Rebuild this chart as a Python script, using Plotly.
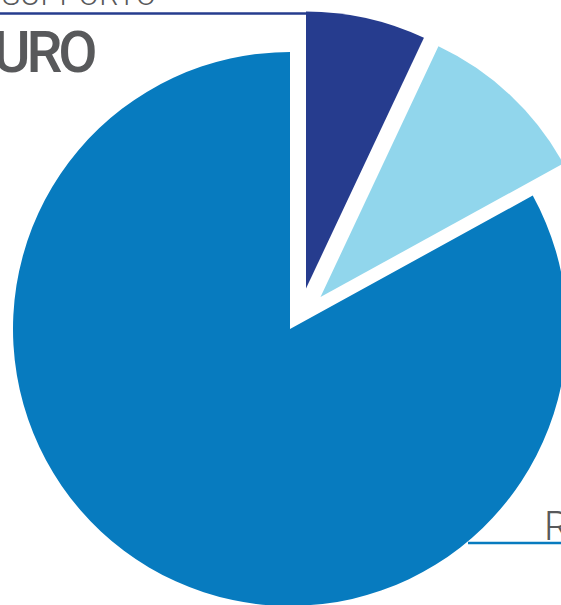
import plotly.graph_objects as go

labels = ["supporto", "altro", "resto"]
shares = [7, 10, 83]
colors = ["#263c8e", "#91d6ec", "#077bbf"]

# canvas in px; each slice is its own pie so it can sit on its own centre
W, H = 620, 640
radius = 277
centres = [(306, 288.5), (320.5, 297), (290, 329)]
GREY = "#58595b"


def px(x):
    return x / W


def py(y):
    return 1 - y / H


fig = go.Figure()
for i, (cx, cy) in enumerate(centres):
    slice_colors = ["rgba(0,0,0,0)"] * len(shares)
    slice_colors[i] = colors[i]
    fig.add_trace(go.Pie(
        labels=labels, values=shares, sort=False,
        direction="clockwise", rotation=0,
        marker=dict(colors=slice_colors, line=dict(width=0)),
        textinfo="none", hoverinfo="skip", showlegend=False,
        domain=dict(x=[px(cx - radius), px(cx + radius)],
                    y=[py(cy + radius), py(cy - radius)]),
    ))

shapes = [
    # leader line from the heading to the navy slice
    dict(type="line", xref="paper", yref="paper",
         x0=px(0), x1=px(306), y0=py(13.5), y1=py(13.5),
         line=dict(color=colors[0], width=2.5)),
    # leader line under the bottom-right label
    dict(type="line", xref="paper", yref="paper",
         x0=px(468), x1=px(W), y0=py(543), y1=py(543),
         line=dict(color=colors[2], width=2.5)),
]

annotations = [
    dict(x=px(0), y=py(-5.4), xref="paper", yref="paper",
         xanchor="left", yanchor="middle", showarrow=False,
         text='<span style="letter-spacing:0.5px">SUPPORTO</span>',
         font=dict(family="Roboto", size=30, color=GREY, weight=300)),
    dict(x=px(97), y=py(53), xref="paper", yref="paper",
         xanchor="right", yanchor="middle", showarrow=False,
         text='<span style="letter-spacing:-4px">EURO</span>',
         font=dict(family="Roboto", size=57, color=GREY, weight=500)),
    dict(x=px(542), y=py(526), xref="paper", yref="paper",
         xanchor="left", yanchor="middle", showarrow=False,
         text="R",
         font=dict(family="Roboto", size=40, color=GREY, weight=300)),
]

fig.update_layout(width=W, height=H, margin=dict(l=0, r=0, t=0, b=0),
                  paper_bgcolor="white", plot_bgcolor="white",
                  shapes=shapes, annotations=annotations)
fig.write_html("out.html")
